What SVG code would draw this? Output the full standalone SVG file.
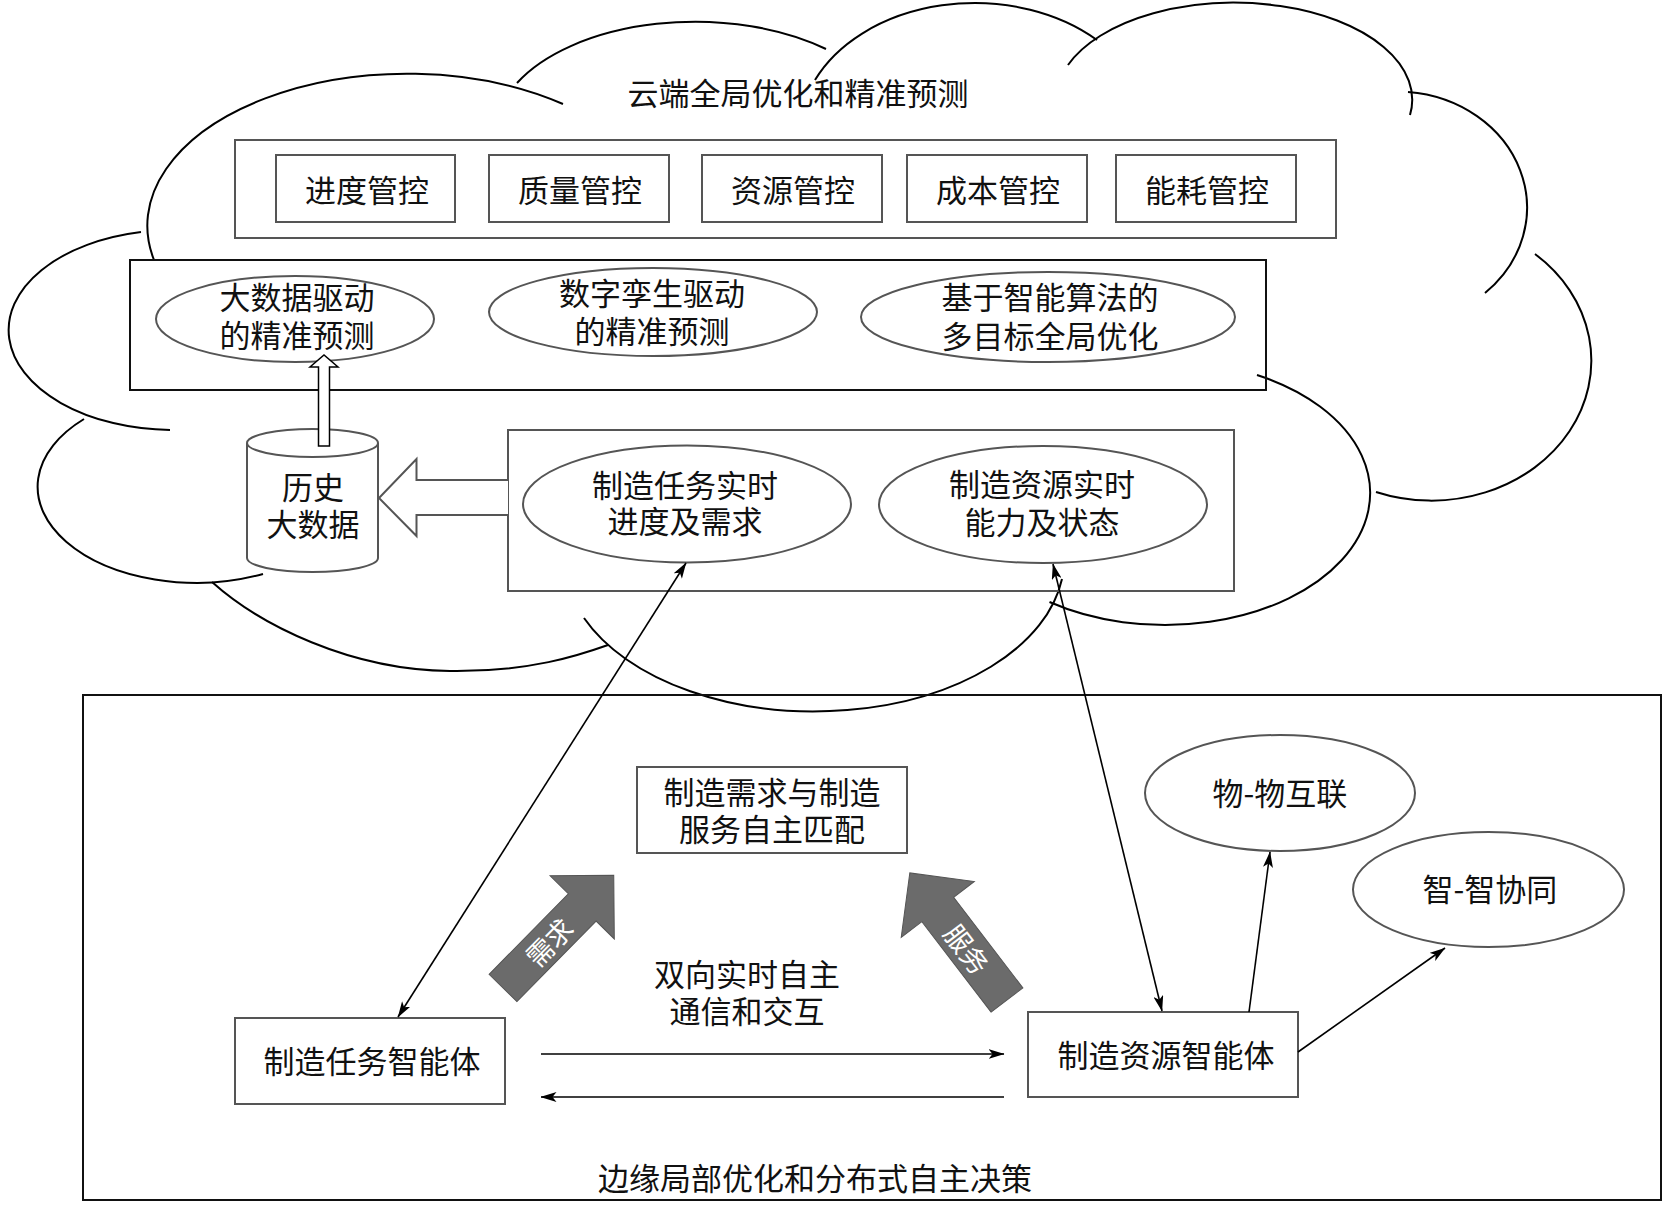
<svg xmlns="http://www.w3.org/2000/svg" width="1664" height="1208" viewBox="0 0 1664 1208">
<style>
.cl{fill:none;stroke:#000;stroke-width:2}
.gb{fill:none;stroke:#555;stroke-width:2}
.bb{fill:none;stroke:#111;stroke-width:2}
.ge{fill:none;stroke:#555;stroke-width:2}
.t{font-family:"Noto Sans CJK SC","Noto Sans",sans-serif;font-size:31px;fill:#111;text-anchor:middle;dominant-baseline:central}
.w{font-family:"Noto Sans CJK SC","Noto Sans",sans-serif;font-size:27px;fill:#fff;text-anchor:middle;dominant-baseline:central}
.ln{fill:none;stroke:#000;stroke-width:1.6}
.ga{fill:#6b6b6b;stroke:#555;stroke-width:1}
</style>
<defs>
<marker id="ah" viewBox="0 0 16 10" refX="15.5" refY="5" markerWidth="16" markerHeight="10" markerUnits="userSpaceOnUse" orient="auto-start-reverse">
<path d="M0,0 L16,5 L0,10 L4,5 z" fill="#000"/>
</marker>
</defs>
<rect width="1664" height="1208" fill="#fff"/>
<g id="cloud">
<path class="cl" d="M154,260 A260,152 0 0 1 563,104"/>
<path class="cl" d="M517,83 A200,112 0 0 1 826,49"/>
<path class="cl" d="M815,80 A175,130 0 0 1 1097,40"/>
<path class="cl" d="M1068,65 A178,97 0 0 1 1410,115"/>
<path class="cl" d="M1408,92 A130,116 0 0 1 1485,293"/>
<path class="cl" d="M1535,254 A160,140 0 0 1 1376,492"/>
<path class="cl" d="M1257,375 A205,132 0 1 1 1049.5,602"/>
<path class="cl" d="M584,618 A250,153 0 0 0 1062,579"/>
<path class="cl" d="M212,582 C260,625 350,670 450,671 C530,672 580,655 608,645"/>
<path class="cl" d="M84,419 A159,96 0 0 0 263,574"/>
<path class="cl" d="M141,232 A165,100 0 0 0 170,430"/>
<text class="t" x="798" y="91">云端全局优化和精准预测</text>
</g>
<g id="control-group">
<rect class="gb" x="235" y="140" width="1101" height="98"/>
</g>
<g id="n-progress"><rect class="gb" x="276" y="155" width="179" height="67"/><text class="t" x="367" y="188">进度管控</text></g>
<g id="n-quality"><rect class="gb" x="489" y="155" width="180" height="67"/><text class="t" x="580" y="188">质量管控</text></g>
<g id="n-resource"><rect class="gb" x="702" y="155" width="180" height="67"/><text class="t" x="793" y="188">资源管控</text></g>
<g id="n-cost"><rect class="gb" x="907" y="155" width="180" height="67"/><text class="t" x="998" y="188">成本管控</text></g>
<g id="n-energy"><rect class="gb" x="1116" y="155" width="180" height="67"/><text class="t" x="1207" y="188">能耗管控</text></g>
<g id="predict-group"><rect class="bb" x="130" y="260" width="1136" height="130"/></g>
<g id="n-bigdata-pred"><ellipse class="ge" cx="295" cy="319" rx="139" ry="43"/><text class="t" x="297" y="295">大数据驱动</text><text class="t" x="297" y="333">的精准预测</text></g>
<g id="n-twin-pred"><ellipse class="ge" cx="653" cy="312" rx="164" ry="44"/><text class="t" x="652" y="291">数字孪生驱动</text><text class="t" x="652" y="329">的精准预测</text></g>
<g id="n-global-opt"><ellipse class="ge" cx="1048" cy="317" rx="187" ry="45"/><text class="t" x="1050" y="295">基于智能算法的</text><text class="t" x="1050" y="334">多目标全局优化</text></g>
<g id="n-history">
<path d="M247,443 L247,558 A65.5,14 0 0 0 378,558 L378,443" fill="#fff" stroke="#555" stroke-width="2"/>
<ellipse cx="312.5" cy="443" rx="65.5" ry="14" fill="#fff" stroke="#555" stroke-width="2"/>
<text class="t" x="313" y="485">历史</text><text class="t" x="313" y="522">大数据</text>
</g>
<g id="realtime-group"><rect class="gb" x="508" y="430" width="726" height="161"/></g>
<g id="n-task-rt"><ellipse class="ge" cx="687" cy="504" rx="164" ry="58.5"/><text class="t" x="685" y="483">制造任务实时</text><text class="t" x="685" y="519">进度及需求</text></g>
<g id="n-res-rt"><ellipse class="ge" cx="1043" cy="504.5" rx="164" ry="58.5"/><text class="t" x="1042" y="482">制造资源实时</text><text class="t" x="1042" y="520">能力及状态</text></g>
<g id="edge-group"><rect class="bb" x="83" y="695" width="1578" height="505"/><text class="t" x="815" y="1176">边缘局部优化和分布式自主决策</text></g>
<g id="n-match"><rect class="gb" x="637" y="767" width="270" height="86"/><text class="t" x="772" y="790">制造需求与制造</text><text class="t" x="772" y="827">服务自主匹配</text></g>
<g id="n-task-agent"><rect class="gb" x="235" y="1018" width="270" height="86"/><text class="t" x="372" y="1059">制造任务智能体</text></g>
<g id="n-res-agent"><rect class="gb" x="1028" y="1012" width="270" height="85"/><text class="t" x="1166" y="1053">制造资源智能体</text></g>
<g id="n-iot"><ellipse class="ge" cx="1280" cy="793" rx="135" ry="58"/><text class="t" x="1280" y="791">物-物互联</text></g>
<g id="n-collab"><ellipse class="ge" cx="1488.5" cy="889.5" rx="135.5" ry="57.5"/><text class="t" x="1490" y="887">智-智协同</text></g>
<text class="t" x="747" y="972">双向实时自主</text>
<text class="t" x="747" y="1009">通信和交互</text>
<g id="connectors">
<polygon points="318.5,446 318.5,367 310,367 324,355 338,367 329.5,367 329.5,446" fill="#fff" stroke="#000" stroke-width="1.5"/>
<polyline points="508,480 416.5,480 416.5,459 379,498 416.5,536 416.5,515 508,515" fill="#fff" stroke="#555" stroke-width="2"/>
<line class="ln" x1="686" y1="563" x2="398" y2="1017" marker-start="url(#ah)" marker-end="url(#ah)"/>
<line class="ln" x1="1053" y1="564" x2="1162" y2="1011" marker-start="url(#ah)" marker-end="url(#ah)"/>
<line class="ln" x1="1249" y1="1012" x2="1270" y2="852" marker-end="url(#ah)"/>
<line class="ln" x1="1298" y1="1052" x2="1445" y2="948" marker-end="url(#ah)"/>
<line class="ln" x1="541" y1="1054" x2="1004" y2="1054" marker-end="url(#ah)"/>
<line class="ln" x1="1004" y1="1097" x2="541" y2="1097" marker-end="url(#ah)"/>
<g transform="translate(503,988) rotate(-45.5)"><polygon class="ga" points="0,-19.5 113,-19.5 113,-45 158,0 113,45 113,19.5 0,19.5"/></g>
<text class="w" transform="translate(548.6,941.7) rotate(-45.5)">需求</text>
<g transform="translate(1007,1000) rotate(-127.4)"><polygon class="ga" points="0,-20 114,-20 114,-46 160,0 114,46 114,20 0,20"/></g>
<text class="w" transform="translate(967.5,948.4) rotate(52.6)">服务</text>
</g>
</svg>
